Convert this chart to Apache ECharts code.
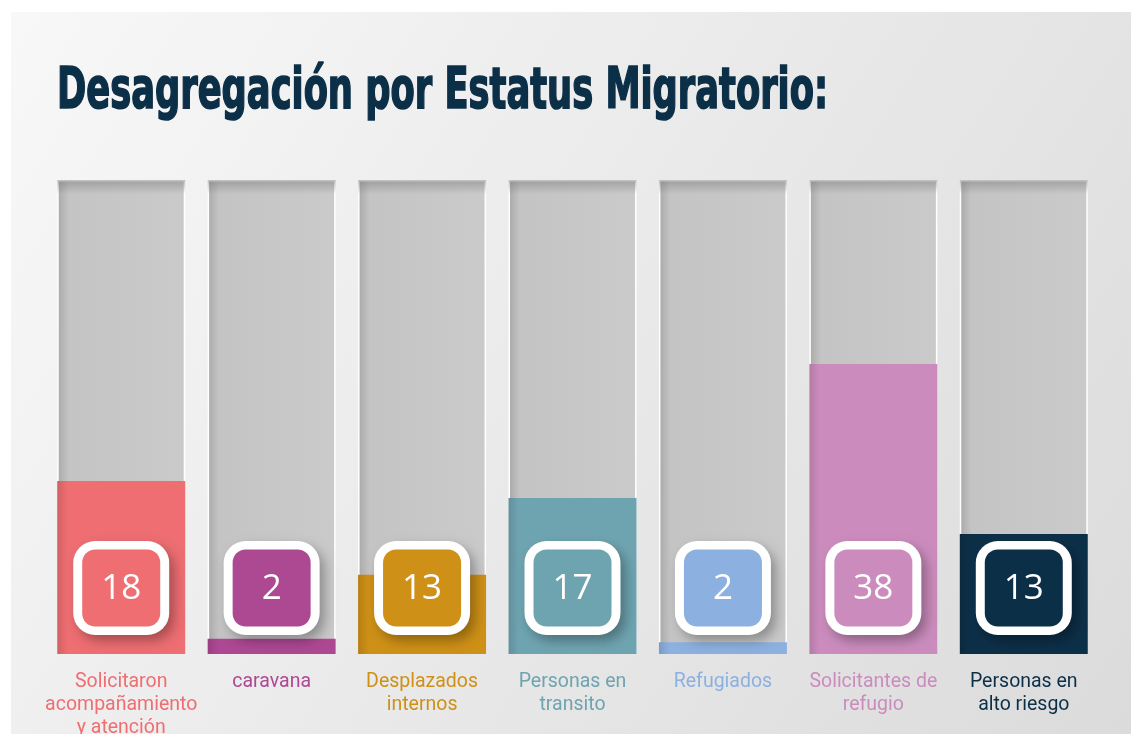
<!DOCTYPE html>
<html>
<head>
<meta charset="utf-8">
<script src="https://cdn.jsdelivr.net/npm/echarts@6/dist/echarts.min.js"></script>
<style>
  html, body { margin: 0; padding: 0; background: #ffffff; }
  #chart { width: 1131px; height: 734px; }
</style>
</head>
<body>
<div id="chart"></div>
<script>
  // categorias y valores
  const categories = [
    'Solicitaron\nacompañamiento\ny atención',
    'caravana',
    'Desplazados\ninternos',
    'Personas en\ntransito',
    'Refugiados',
    'Solicitantes de\nrefugio',
    'Personas en\nalto riesgo'
  ];
  const counts = [18, 2, 13, 17, 2, 38, 13];
  // nivel de llenado de cada columna (% del tubo)
  const fillLevels = [36.5, 3.2, 16.7, 32.9, 2.5, 61.2, 25.3];
  const colors = ['#ee6e72', '#ad4893', '#ce9016', '#6ea4b0', '#8cb0df', '#cb8cbd', '#0c2f48'];
  const titleText = 'Desagregación por Estatus Migratorio:';

  const chart = echarts.init(document.getElementById('chart'));

  // ancho del titulo para que ocupe lo mismo que en la imagen
  const titleFont = 'bold 40px "DejaVu Sans Condensed", "DejaVu Sans", sans-serif';
  const ctx = document.createElement('canvas').getContext('2d');
  ctx.font = titleFont;
  const titleScaleX = 771 / ctx.measureText(titleText).width;

  function shade(c, f) {
    const n = parseInt(c.slice(1), 16);
    const r = Math.round(((n >> 16) & 255) * f);
    const g = Math.round(((n >> 8) & 255) * f);
    const b = Math.round((n & 255) * f);
    return 'rgb(' + r + ',' + g + ',' + b + ')';
  }

  // recuadro blanco con la cifra, siempre a la misma altura sobre la base
  function renderBadge(params, api) {
    const i = api.value(0);
    const base = api.coord([i, 0]);
    const cx = base[0];
    const cy = base[1] - 66;
    return {
      type: 'group',
      children: [
        {
          type: 'rect',
          shape: { x: cx - 48, y: cy - 47, width: 96, height: 94, r: 22 },
          style: {
            fill: '#ffffff',
            shadowBlur: 12,
            shadowOffsetX: 5,
            shadowOffsetY: 6,
            shadowColor: 'rgba(0,0,0,0.3)'
          }
        },
        {
          type: 'rect',
          shape: { x: cx - 39, y: cy - 38.5, width: 78, height: 77, r: 13 },
          style: { fill: colors[i] }
        },
        {
          type: 'text',
          style: {
            text: String(api.value(1)),
            x: cx,
            y: cy + 1,
            fill: '#ffffff',
            font: '35px "Open Sans", sans-serif',
            align: 'center',
            verticalAlign: 'middle'
          }
        }
      ]
    };
  }

  const option = {
    animation: false,
    graphic: [
      {
        type: 'rect',
        z: -10,
        shape: { x: 11, y: 12, width: 1120, height: 722 },
        style: {
          fill: new echarts.graphic.LinearGradient(0, 0, 1, 1, [
            { offset: 0, color: '#f8f8f8' },
            { offset: 1, color: '#dcdbdb' }
          ])
        }
      },
      {
        type: 'text',
        x: 57,
        y: 65,
        scaleX: titleScaleX,
        scaleY: 1.4,
        style: {
          text: titleText,
          font: titleFont,
          fill: '#0c2f48',
          stroke: '#0c2f48',
          lineWidth: 1.2,
          verticalAlign: 'top'
        }
      }
    ],
    grid: { top: 180, bottom: 80, left: 46, right: 32, containLabel: false, outerBoundsMode: 'none' },
    xAxis: {
      type: 'category',
      data: categories,
      axisLine: { show: false },
      axisTick: { show: false },
      axisLabel: {
        margin: 17,
        fontFamily: 'Roboto',
        fontSize: 19.5,
        lineHeight: 23,
        interval: 0,
        color: function (v, i) { return colors[i]; }
      }
    },
    yAxis: { type: 'value', min: 0, max: 100, show: false },
    series: [
      {
        name: 'tubo',
        type: 'bar',
        barWidth: 128,
        barGap: '-100%',
        silent: true,
        data: categories.map(() => 100),
        itemStyle: {
          borderColor: '#ffffff',
          borderWidth: 1.5,
          color: new echarts.graphic.LinearGradient(0, 0, 1, 0, [
            { offset: 0, color: '#a8a8a8' },
            { offset: 0.09, color: '#c5c4c4' },
            { offset: 1, color: '#cbcaca' }
          ])
        }
      },
      {
        name: 'sombra',
        type: 'bar',
        barWidth: 128,
        barGap: '-100%',
        silent: true,
        data: categories.map(() => 100),
        itemStyle: {
          color: new echarts.graphic.LinearGradient(0, 0, 0, 1, [
            { offset: 0, color: 'rgba(110,110,110,0.45)' },
            { offset: 0.03, color: 'rgba(110,110,110,0)' },
            { offset: 1, color: 'rgba(110,110,110,0)' }
          ])
        }
      },
      {
        name: 'nivel',
        type: 'bar',
        barWidth: 128,
        barGap: '-100%',
        data: fillLevels.map((v, i) => ({
          value: v,
          itemStyle: {
            color: new echarts.graphic.LinearGradient(0, 0, 1, 0, [
              { offset: 0, color: shade(colors[i], 0.88) },
              { offset: 0.08, color: colors[i] },
              { offset: 1, color: colors[i] }
            ])
          }
        }))
      },
      {
        name: 'cifra',
        type: 'custom',
        coordinateSystem: 'cartesian2d',
        encode: { x: 0, y: 1 },
        z: 10,
        data: counts.map((v, i) => [i, v]),
        renderItem: renderBadge
      }
    ]
  };

  chart.setOption(option);
</script>
</body>
</html>
